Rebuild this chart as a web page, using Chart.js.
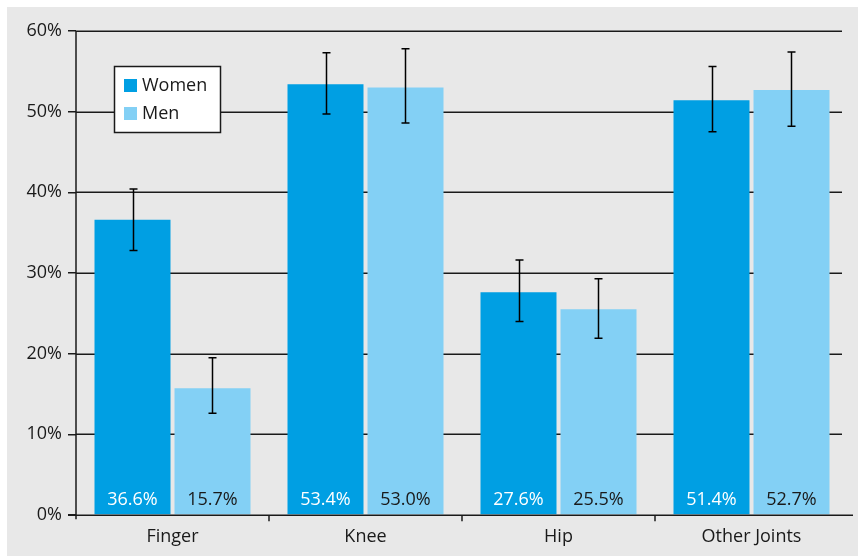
<!DOCTYPE html>
<html>
<head>
<meta charset="utf-8">
<script src="https://cdn.jsdelivr.net/npm/chart.js@4/dist/chart.umd.min.js"></script>
<style>
html,body{margin:0;padding:0;background:#ffffff;}
#wrap{position:relative;width:858px;height:556px;}
canvas{display:block;}
</style>
</head>
<body>
<div id="wrap"><canvas id="c" width="858" height="556"></canvas></div>
<script>
const categories = ["Finger", "Knee", "Hip", "Other Joints"];
const women = [36.6, 53.4, 27.6, 51.4];
const men = [15.7, 53.0, 25.5, 52.7];
const womenLow = [32.8, 49.7, 24.0, 47.5];
const womenHigh = [40.4, 57.3, 31.6, 55.6];
const menLow = [12.6, 48.6, 21.9, 48.2];
const menHigh = [19.5, 57.8, 29.3, 57.4];
const yTicks = [0, 10, 20, 30, 40, 50, 60];

const FONT = "'Open Sans', 'Noto Sans', sans-serif";
const WOMEN_COLOR = "#009fe3";
const MEN_COLOR = "#83d0f5";
const LINE = "#1a1a1a";

const bgPlugin = {
  id: "bg",
  beforeDraw(chart) {
    const ctx = chart.ctx;
    ctx.save();
    ctx.fillStyle = "#e8e8e8";
    ctx.fillRect(7, 7, chart.width - 7, chart.height - 7);
    ctx.restore();
  }
};

const gridPlugin = {
  id: "customGrid",
  beforeDatasetsDraw(chart) {
    const ctx = chart.ctx;
    const y = chart.scales.y;
    const a = chart.chartArea;
    ctx.save();
    ctx.strokeStyle = LINE;
    ctx.lineWidth = 1.5;
    yTicks.forEach(v => {
      if (v === 0) return;
      const py = Math.round(y.getPixelForValue(v)) + 0.25;
      ctx.beginPath();
      ctx.moveTo(a.left, py);
      ctx.lineTo(a.right - 6, py);
      ctx.stroke();
    });
    ctx.restore();
  },
  afterDatasetsDraw(chart) {
    const ctx = chart.ctx;
    const y = chart.scales.y;
    const x = chart.scales.x;
    const a = chart.chartArea;
    ctx.save();
    ctx.strokeStyle = LINE;
    ctx.lineWidth = 1.5;
    const py0 = Math.round(y.getPixelForValue(0)) + 0.25;
    ctx.beginPath();
    ctx.moveTo(a.left - 8, py0);
    ctx.lineTo(a.right + 5, py0);
    ctx.stroke();
    ctx.beginPath();
    ctx.moveTo(a.left, a.top);
    ctx.lineTo(a.left, py0 + 4);
    ctx.stroke();
    const step = x.getPixelForValue(1) - x.getPixelForValue(0);
    for (let i = 1; i < categories.length; i++) {
      const px = Math.round(x.getPixelForValue(i) - step / 2);
      ctx.beginPath();
      ctx.moveTo(px, py0);
      ctx.lineTo(px, py0 + 6);
      ctx.stroke();
    }
    const lows = [womenLow, menLow];
    const highs = [womenHigh, menHigh];
    ctx.strokeStyle = "#000";
    chart.data.datasets.forEach((ds, di) => {
      const meta = chart.getDatasetMeta(di);
      meta.data.forEach((bar, i) => {
        const cx = Math.round(bar.x) + 0.5;
        const top = y.getPixelForValue(highs[di][i]);
        const bot = y.getPixelForValue(lows[di][i]);
        ctx.beginPath();
        ctx.moveTo(cx, top);
        ctx.lineTo(cx, bot);
        ctx.moveTo(cx - 4, top);
        ctx.lineTo(cx + 4, top);
        ctx.moveTo(cx - 4, bot);
        ctx.lineTo(cx + 4, bot);
        ctx.stroke();
      });
    });
    ctx.font = "18px " + FONT;
    ctx.textAlign = "center";
    ctx.textBaseline = "middle";
    chart.data.datasets.forEach((ds, di) => {
      const meta = chart.getDatasetMeta(di);
      meta.data.forEach((bar, i) => {
        ctx.fillStyle = di === 0 ? "#ffffff" : "#1a1a1a";
        ctx.fillText(ds.data[i].toFixed(1) + "%", bar.x, py0 - 15);
      });
    });
    ctx.restore();
  },
  afterDraw(chart) {
    const ctx = chart.ctx;
    ctx.save();
    ctx.fillStyle = "#ffffff";
    ctx.fillRect(114, 66, 107, 67);
    ctx.strokeStyle = LINE;
    ctx.lineWidth = 1.5;
    ctx.strokeRect(114.5, 66.5, 106, 66);
    ctx.font = "18px " + FONT;
    ctx.textAlign = "left";
    ctx.textBaseline = "middle";
    chart.data.datasets.forEach((ds, di) => {
      const yy = di === 0 ? 86 : 114;
      ctx.fillStyle = ds.backgroundColor;
      ctx.fillRect(124, yy - 7, 13, 13);
      ctx.fillStyle = "#1a1a1a";
      ctx.fillText(ds.label, 142, yy);
    });
    ctx.restore();
  }
};

new Chart(document.getElementById("c"), {
  type: "bar",
  data: {
    labels: categories,
    datasets: [
      { label: "Women", data: women, backgroundColor: WOMEN_COLOR, categoryPercentage: 0.829, barPercentage: 0.95 },
      { label: "Men", data: men, backgroundColor: MEN_COLOR, categoryPercentage: 0.829, barPercentage: 0.95 }
    ]
  },
  options: {
    responsive: false,
    animation: false,
    devicePixelRatio: 1,
    layout: { padding: { left: 0, top: 31, right: 10, bottom: 0 } },
    plugins: { legend: { display: false }, tooltip: { enabled: false } },
    scales: {
      x: {
        offset: true,
        grid: { display: false },
        border: { display: false },
        ticks: { color: "#1a1a1a", font: { family: FONT, size: 18 }, padding: 3, maxRotation: 0 },
        afterFit(s) { s.height = 41; }
      },
      y: {
        min: 0, max: 60,
        afterBuildTicks(s) { s.ticks = yTicks.map(v => ({ value: v })); },
        grid: { drawOnChartArea: false, drawTicks: true, tickLength: 8, color: LINE, lineWidth: 1.5 },
        border: { display: false },
        ticks: { color: "#1a1a1a", font: { family: FONT, size: 18 }, padding: 6, callback: v => v + "%" },
        afterFit(s) { s.width = 76; }
      }
    }
  },
  plugins: [bgPlugin, gridPlugin]
});
</script>
</body>
</html>
